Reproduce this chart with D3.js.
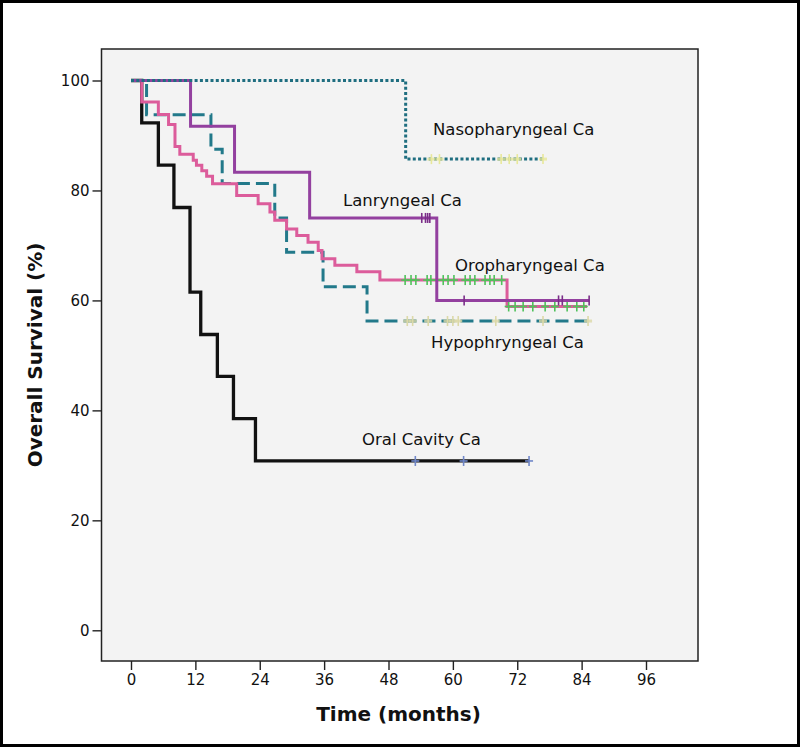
<!DOCTYPE html>
<html><head><meta charset="utf-8">
<script src="https://cdn.jsdelivr.net/npm/d3@7"></script>
<style>
html,body{margin:0;padding:0;background:#fff;}
svg{display:block;}
</style></head>
<body>
<svg id="chart" width="800" height="747"></svg>
<script>
// ---------- data ----------
const xTicks = [0, 12, 24, 36, 48, 60, 72, 84, 96];
const yTicks = [0, 20, 40, 60, 80, 100];

const nasoTimes = [0, 51.2];
const nasoSurv = [100, 85.7];
const nasoEnd = 76.8;
const nasoCensor = [56.0, 57.5, 69.0, 70.5, 72.0, 76.8];

const larTimes = [0, 11.1, 19.3, 33.3, 57.0];
const larSurv = [100, 91.7, 83.3, 75.0, 60.0];
const larEnd = 85.4;
const larCensor = [54.2, 54.9, 55.3, 55.7, 62.1, 79.7, 80.4, 85.4];

const oroTimes = [0, 2.0, 5.1, 7.0, 8.2, 9.1, 11.6, 12.2, 13.2, 14.1, 15.2, 19.7, 23.7, 25.9, 26.8, 29.0, 30.9, 33.0, 34.9, 35.6, 38.0, 42.1, 46.4, 70.1];
const oroSurv = [100, 96.1, 93.8, 92.0, 88.0, 86.6, 85.5, 84.6, 83.6, 82.6, 81.2, 79.1, 77.6, 76.1, 74.6, 73.0, 71.8, 70.6, 69.1, 67.6, 66.4, 65.2, 63.7, 58.9];
const oroEnd = 85.0;
const oroCensor = [51.1, 52.2, 53.1, 55.2, 55.9, 57.0, 58.2, 59.1, 60.2, 62.3, 63.2, 64.1, 66.0, 66.9, 67.7, 69.1,
                   70.4, 71.6, 73.1, 74.9, 77.2, 79.0, 81.3, 83.1, 84.4];

const hypoTimes = [0, 2.9, 14.9, 17.0, 26.8, 29.0, 35.8, 44.0];
const hypoSurv = [100, 93.75, 87.5, 81.25, 75.0, 68.75, 62.5, 56.25];
const hypoEnd = 85.2;
const hypoCensor = [51.5, 52.5, 55.4, 59.0, 60.0, 61.0, 68.0, 76.8, 85.2];

const oralTimes = [0, 2.0, 5.1, 8.0, 11.0, 13.0, 16.1, 19.1, 23.2];
const oralSurv = [100, 92.3, 84.6, 76.9, 61.5, 53.8, 46.2, 38.5, 30.8];
const oralEnd = 74.2;
const oralCensor = [53.0, 62.0, 74.2];

const labels = ["Nasopharyngeal Ca", "Lanryngeal Ca", "Oropharyngeal Ca", "Hypophryngeal Ca", "Oral Cavity Ca"];

// ---------- layout ----------
const svg = d3.select("#chart");
const frame = {left: 101.5, top: 49, right: 698, bottom: 661};
const x = d3.scaleLinear().domain([0, 96]).range([131, 646]);
const y = d3.scaleLinear().domain([0, 100]).range([630.3, 80.5]);

// outer border
svg.append("rect").attr("x", 1.5).attr("y", 1.5).attr("width", 797).attr("height", 744)
  .attr("fill", "#fff").attr("stroke", "#000").attr("stroke-width", 3);

// plot background
svg.append("rect").attr("x", frame.left).attr("y", frame.top)
  .attr("width", frame.right - frame.left).attr("height", frame.bottom - frame.top)
  .attr("fill", "#f3f3f3").attr("stroke", "#222").attr("stroke-width", 1.5);

const font = "'DejaVu Sans', sans-serif";

// y axis
const yAxis = d3.axisLeft(y).tickValues(yTicks).tickSize(9).tickPadding(3);
const gy = svg.append("g").attr("transform", `translate(${frame.left},0)`).call(yAxis);
gy.select(".domain").remove();
gy.selectAll("line").attr("stroke", "#222").attr("stroke-width", 1.4);
gy.selectAll("text").attr("font-family", font).attr("font-size", 15).attr("fill", "#111");

// x axis
const xAxis = d3.axisBottom(x).tickValues(xTicks).tickSize(9).tickPadding(4);
const gx = svg.append("g").attr("transform", `translate(0,${frame.bottom})`).call(xAxis);
gx.select(".domain").remove();
gx.selectAll("line").attr("stroke", "#222").attr("stroke-width", 1.4);
gx.selectAll("text").attr("font-family", font).attr("font-size", 15).attr("fill", "#111");

// axis titles
svg.append("text").attr("x", 398.5).attr("y", 721).attr("text-anchor", "middle")
  .attr("font-family", font).attr("font-weight", "bold").attr("font-size", 20).attr("fill", "#111")
  .text("Time (months)");
svg.append("text").attr("transform", "translate(42,355) rotate(-90)").attr("text-anchor", "middle")
  .attr("font-family", font).attr("font-weight", "bold").attr("font-size", 20).attr("fill", "#111")
  .text("Overall Survival (%)");

// ---------- curves ----------
function survAt(times, surv, t) {
  let s = surv[0];
  for (let i = 0; i < times.length; i++) { if (times[i] <= t) s = surv[i]; }
  return s;
}
const line = d3.line().x(d => x(d[0])).y(d => y(d[1])).curve(d3.curveStepAfter);

function drawSeries(times, surv, end, censor, color, dash, censorColor, censorStyle, width) {
  const pts = times.map((t, i) => [t, surv[i]]);
  pts.push([end, surv[surv.length - 1]]);
  const g = svg.append("g");
  g.append("path").attr("d", line(pts)).attr("fill", "none").attr("stroke", color)
    .attr("stroke-width", width || 3).attr("stroke-dasharray", dash || null)
    .attr("stroke-linejoin", "miter").attr("stroke-linecap", "butt");
  censor.forEach(c => {
    const cx = x(c), cy = y(survAt(times, surv, c));
    g.append("line").attr("x1", cx).attr("x2", cx).attr("y1", cy - 5).attr("y2", cy + 5)
      .attr("stroke", censorColor).attr("stroke-width", 1.6);
    if (censorStyle === "plus") {
      g.append("line").attr("x1", cx - 4).attr("x2", cx + 4).attr("y1", cy).attr("y2", cy)
        .attr("stroke", censorColor).attr("stroke-width", 1.6);
    } else if (censorStyle === "bar") {
      g.append("line").attr("x1", cx - 4).attr("x2", cx + 4).attr("y1", cy).attr("y2", cy)
        .attr("stroke", censorColor).attr("stroke-width", 3).attr("opacity", 0.8);
    }
  });
}

drawSeries(oralTimes, oralSurv, oralEnd, oralCensor, "#111111", null, "#6f86c8", "plus", 3.3);
drawSeries(hypoTimes, hypoSurv, hypoEnd, hypoCensor, "#22798a", "13,6", "#dcd9a8", "bar");
drawSeries(oroTimes, oroSurv, oroEnd, oroCensor, "#dc5c9b", null, "#4fc25a", "plus");
drawSeries(larTimes, larSurv, larEnd, larCensor, "#93409f", null, "#7a2d88", null);
drawSeries(nasoTimes, nasoSurv, nasoEnd, nasoCensor, "#1f6e80", "3,2.3", "#e8e89a", "bar");

// ---------- labels ----------
const labelPos = [[433, 134.5], [343, 205.5], [455, 270.5], [431, 347.5], [362, 445]];
labels.forEach((t, i) => {
  svg.append("text").attr("x", labelPos[i][0]).attr("y", labelPos[i][1])
    .attr("font-family", font).attr("font-size", 16.5).attr("fill", "#111").text(t);
});
</script>
</body></html>
